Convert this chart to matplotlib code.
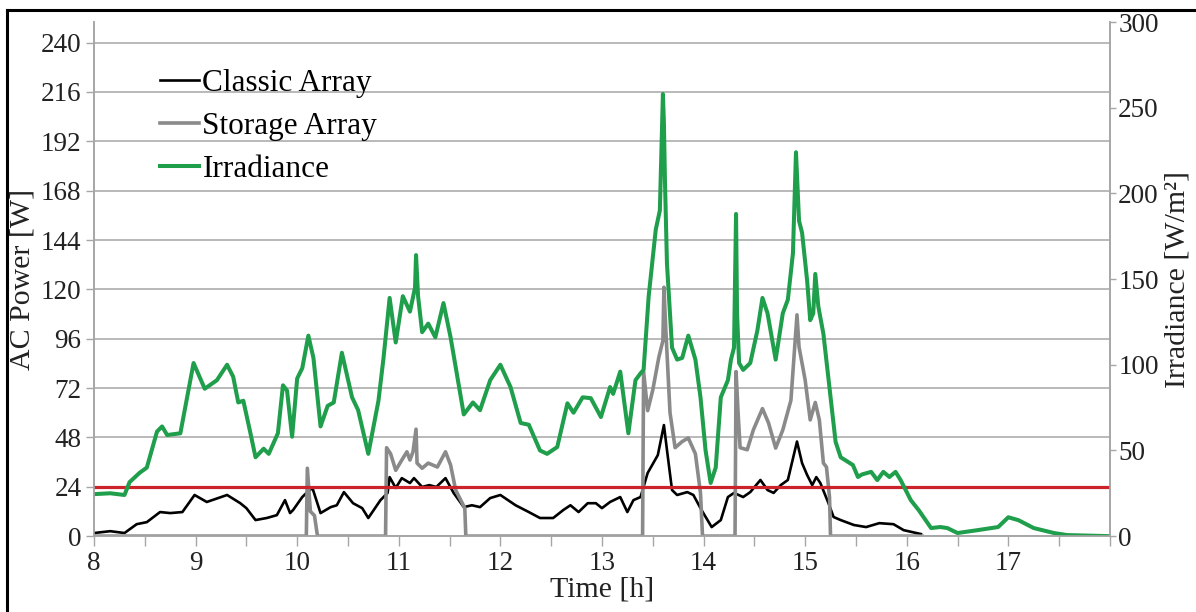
import matplotlib
matplotlib.use("Agg")
import matplotlib.pyplot as plt
import numpy as np
from matplotlib.lines import Line2D
from matplotlib.ticker import MultipleLocator, FuncFormatter

plt.rcParams['font.family'] = 'serif'
plt.rcParams['font.serif'] = ['Liberation Serif', 'DejaVu Serif']

# irradiance [W/m2]
irr_t = [8.00, 8.16, 8.30, 8.35, 8.45, 8.52, 8.62, 8.67, 8.72, 8.85, 8.98, 9.09, 9.21, 9.31,
         9.37, 9.42, 9.47, 9.54, 9.59, 9.67, 9.72, 9.81, 9.86, 9.90, 9.95, 10.00, 10.05, 10.11,
         10.16, 10.23, 10.30, 10.36, 10.44, 10.54, 10.60, 10.70, 10.80, 10.85, 10.91, 10.97,
         11.04, 11.11, 11.16, 11.17, 11.19, 11.23, 11.29, 11.36, 11.44, 11.51, 11.64, 11.73,
         11.80, 11.90, 12.00, 12.10, 12.20, 12.28, 12.39, 12.46, 12.56, 12.66, 12.72, 12.81,
         12.89, 12.99, 13.08, 13.11, 13.18, 13.26, 13.33, 13.38, 13.41, 13.46, 13.53, 13.57,
         13.60, 13.61, 13.62, 13.64, 13.69, 13.74, 13.79, 13.85, 13.92, 13.97, 14.02, 14.07,
         14.12, 14.17, 14.24, 14.27, 14.30, 14.32, 14.33, 14.35, 14.39, 14.46, 14.53, 14.58,
         14.63, 14.71, 14.78, 14.83, 14.88, 14.91, 14.94, 14.97, 15.02, 15.05, 15.08, 15.10,
         15.13, 15.18, 15.25, 15.30, 15.35, 15.47, 15.52, 15.56, 15.65, 15.71, 15.77, 15.83,
         15.89, 15.94, 16.04, 16.12, 16.24, 16.33, 16.40, 16.50, 16.70, 16.90, 17.00, 17.10,
         17.25, 17.45, 17.58, 17.98]
irr_val = [24.5, 25, 24, 31.5, 37, 40, 61, 64, 59, 60, 101, 86, 91, 100,
           93, 78, 79, 60, 46, 51, 48, 60, 88, 85, 58, 92, 98, 117,
           104, 64, 76, 78, 107, 81, 73.5, 48, 79, 104, 139, 113,
           140, 131, 145, 164, 140, 119, 124, 116, 136, 116, 71, 78,
           73.5, 91, 100, 87, 66, 65, 50, 48, 52, 77.5, 72, 81,
           80.5, 69.5, 87, 83, 96, 60, 91, 95, 97, 140, 179, 190,
           258, 241, 208, 159, 110, 103, 104, 117, 103, 81, 50, 31,
           40, 81, 91, 103, 110, 188, 130, 101, 97, 101, 120, 139,
           130, 103, 130, 138, 165, 224, 184, 177, 149, 126, 130, 153,
           134, 118, 81, 55, 46, 41.5, 34.5, 36, 37.5, 32.7, 37.5, 34.5,
           37.5, 32.7, 21, 15, 4.7, 5.3, 4.7, 1.8, 3.5, 5.3, 11, 9.3,
           4.7, 1.8, 0.6, 0]

# classic array AC power [W]
classic_t = [8.00, 8.16, 8.30, 8.42, 8.52, 8.65, 8.75, 8.87, 8.99, 9.11, 9.31, 9.44, 9.50, 9.59,
             9.70, 9.80, 9.88, 9.93, 9.96, 10.05, 10.10, 10.15, 10.23, 10.33, 10.39, 10.46,
             10.55, 10.64, 10.70, 10.82, 10.89, 10.91, 10.97, 11.03, 11.11, 11.15, 11.23, 11.30,
             11.37, 11.46, 11.54, 11.64, 11.72, 11.80, 11.90, 12.00, 12.15, 12.28, 12.39, 12.52,
             12.62, 12.69, 12.77, 12.86, 12.94, 13.00, 13.08, 13.18, 13.25, 13.31, 13.38, 13.45,
             13.55, 13.61, 13.64, 13.69, 13.74, 13.84, 13.90, 13.98, 14.08, 14.17, 14.24, 14.30,
             14.39, 14.46, 14.56, 14.63, 14.69, 14.76, 14.83, 14.92, 14.97, 15.02, 15.07, 15.11,
             15.15, 15.23, 15.28, 15.35, 15.48, 15.60, 15.73, 15.87, 15.97, 16.14]
classic_val = [1.5, 2.4, 1.5, 5.8, 6.8, 11.7, 11.2, 11.7, 20, 16.6, 20, 16, 13.6, 7.8,
               8.8, 10.2, 17.5, 11.2, 12.7, 19, 21.4, 23.4, 11.2, 14.1, 15, 21.4,
               16, 13.6, 8.8, 17.5, 21, 28.7, 23.4, 28.2, 25.8, 28.2, 23.9, 24.8,
               23.9, 28.2, 21, 14.1, 15, 14.1, 18.5, 20, 15, 11.7, 8.8, 8.8,
               12.7, 15, 11.7, 16, 16, 13.6, 16.6, 19, 11.7, 17.5, 19, 30.7,
               39.4, 54, 41.9, 22.4, 20, 21.4, 20, 12.7, 4.4, 7.8, 19, 21,
               19, 21.4, 27.3, 22.4, 21, 24.8, 27.3, 46, 35.5, 29.7, 24.8, 28.7,
               25.8, 16, 9.3, 7.8, 5.4, 4.4, 6.3, 5.8, 2.9, 1.0]

# storage array AC power [W]
storage_t = [8.00, 10.09, 10.10, 10.13, 10.17, 10.20, 10.87, 10.88, 10.92, 10.97, 11.03, 11.08,
             11.11, 11.14, 11.17, 11.18, 11.23, 11.29, 11.38, 11.46, 11.51, 11.56, 11.65, 11.66,
             13.40, 13.41, 13.45, 13.50, 13.56, 13.60, 13.61, 13.63, 13.67, 13.72, 13.79, 13.85,
             13.92, 13.97, 13.99, 14.31, 14.32, 14.34, 14.36, 14.43, 14.49, 14.58, 14.64, 14.71,
             14.78, 14.86, 14.92, 14.94, 14.97, 15.00, 15.05, 15.10, 15.14, 15.18, 15.21, 15.24,
             15.25, 16.15]
storage_val = [0, 0, 33, 12, 10, 0, 0, 43, 40, 32, 37, 41,
               37, 41, 52, 35.5, 33, 35.5, 33.6, 41, 34.6, 22.4, 13.6, 0,
               0, 80, 61, 71, 87, 95, 121, 99, 60, 43, 46, 47.7,
               40, 21, 0, 0, 80, 60, 43, 42, 51.6, 62, 55, 42.8,
               51.6, 66, 107.6, 92, 84, 76, 56.5, 65, 56.5, 35.5, 33.6, 19,
               0, 0]

threshold_w = 24

fig = plt.figure(figsize=(11.96, 6.12), dpi=100)
ax = fig.add_axes([0.0786, 0.124, 0.8494, 0.840])
ax2 = ax.twinx()

spine_col = '#a6a6a6'
ax.grid(axis='y', color='#b3b3b3', lw=1.3)
ax.set_axisbelow(True)

l1, = ax.plot(classic_t, classic_val, color='black', lw=1.9, label='Classic Array', zorder=3)
l2, = ax.plot(storage_t, storage_val, color='#8a8a8a', lw=2.6, label='Storage Array', zorder=4)
ax.axhline(threshold_w, color='#cc2229', lw=2.3, zorder=5)
l3, = ax2.plot(irr_t, irr_val, color='#1f9e4b', lw=2.9, label='Irradiance')

ax.set_xlim(8, 18)
ax.set_ylim(0, 250)
ax2.set_ylim(0, 300)
ax.xaxis.set_major_locator(MultipleLocator(0.5))
ax.xaxis.set_major_formatter(FuncFormatter(lambda v, p: '%d' % v if v % 1 == 0 and v < 18 else ''))
ax.set_yticks(np.arange(0, 241, 24))
ax2.set_yticks(np.arange(0, 301, 50))

for a in (ax, ax2):
    a.spines['top'].set_visible(False)
    for s in ('left', 'right', 'bottom'):
        a.spines[s].set_color(spine_col)
        a.spines[s].set_linewidth(1.2)
    a.tick_params(colors=spine_col, labelcolor='#222222', labelsize=19.5, width=1.0)
ax.tick_params(axis='x', length=7, pad=4)
ax.tick_params(axis='y', length=6, pad=3)
ax2.tick_params(axis='y', length=4, pad=2)

ax.set_xlabel('Time [h]', fontsize=21.5, color='#222222', labelpad=0)
ax.set_ylabel('AC Power [W]', fontsize=21.5, color='#222222', labelpad=4)
ax2.set_ylabel('Irradiance [W/m²]', fontsize=21.5, color='#222222', labelpad=4)

ax2.legend(handles=[l1, l2, l3], loc='upper left', bbox_to_anchor=(0.134, 0.888),
           bbox_transform=fig.transFigure, frameon=False, fontsize=22.5,
           handlelength=1.25, handletextpad=0.1, labelspacing=0.45, borderpad=0,
           borderaxespad=0)

# frame lines along the top and left edge
fig.add_artist(Line2D([0.006, 0.006], [0.0, 0.984], color='black', lw=2.2, transform=fig.transFigure))
fig.add_artist(Line2D([0.006, 1.0], [0.984, 0.984], color='black', lw=2.2, transform=fig.transFigure))

fig.savefig('out.png', dpi=100)
